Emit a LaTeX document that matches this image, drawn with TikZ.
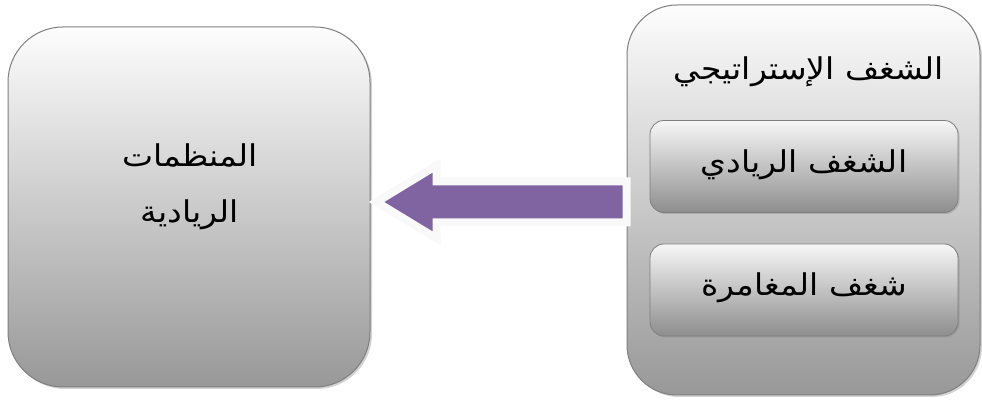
\documentclass[tikz,border=0pt]{standalone}
\usepackage{fontspec}
\newfontfamily\arabicfont[Script=Arabic, FakeStretch=1.1]{DejaVu Sans}
\TeXXeTstate=1
\usetikzlibrary{shadows,calc}
\definecolor{boxline}{HTML}{7F7F7F}
\definecolor{arrowfill}{HTML}{8064A2}
\definecolor{topg}{HTML}{FDFDFD}
\definecolor{botg}{HTML}{989898}
\tikzset{
  bigbox/.style={draw=boxline, line width=1pt, top color=topg, bottom color=botg,
    drop shadow={shadow xshift=2pt, shadow yshift=-2pt, opacity=0.35}},
  smallbox/.style={draw=boxline, line width=0.8pt, rounded corners=14pt, top color=topg!95!gray, bottom color=botg!110,
    minimum width=308pt, minimum height=92pt,
    drop shadow={shadow xshift=1.5pt, shadow yshift=-1.5pt, opacity=0.35}},
  label/.style={font=\arabicfont\fontsize{30}{36}\selectfont, text=black, inner sep=0pt}
}
\begin{document}
\begin{tikzpicture}[x=1pt,y=1pt]
\useasboundingbox (0,0) rectangle (982,401);
\node[bigbox, rounded corners=55pt, minimum width=362pt, minimum height=360pt] (L) at (189,194) {};
\node[label] (Lt1) at (190,246) {\beginR المنظمات\endR};
\node[label] (Lt2) at (190,186) {\beginR الريادية\endR};
\node[bigbox, rounded corners=50pt, minimum width=353pt, minimum height=390pt] (R) at (803.5,201) {};
\node[label] (Rt) at (809,329) {\beginR الشغف الإستراتيجي\endR};
\node[smallbox] (R1) at (804,234.5) {};
\node[label] (R1t) at ($(R1)+(0,2pt)$) {\beginR الشغف الريادي\endR};
\node[smallbox] (R2) at (804,111) {};
\node[label] (R2t) at ($(R2)+(0,2pt)$) {\beginR شغف المغامرة\endR};
\coordinate (tip) at ($(L.east)+(6pt,5pt)$);
\coordinate (tail) at ($(R.west)+(0pt,-2pt)$);
\draw[draw=white!95!gray, line width=8pt, line join=miter, fill=arrowfill,
      drop shadow={shadow xshift=1.5pt, shadow yshift=-1.5pt, opacity=0.3}]
  (tip) -- ($(tip)+(60pt,36.5pt)$) -- ($(tip)+(60pt,20.5pt)$) -- ($(tail)+(0,20.5pt)$)
  -- ($(tail)+(0,-20.5pt)$) -- ($(tip)+(60pt,-20.5pt)$) -- ($(tip)+(60pt,-36.5pt)$) -- cycle;
\end{tikzpicture}
\end{document}
